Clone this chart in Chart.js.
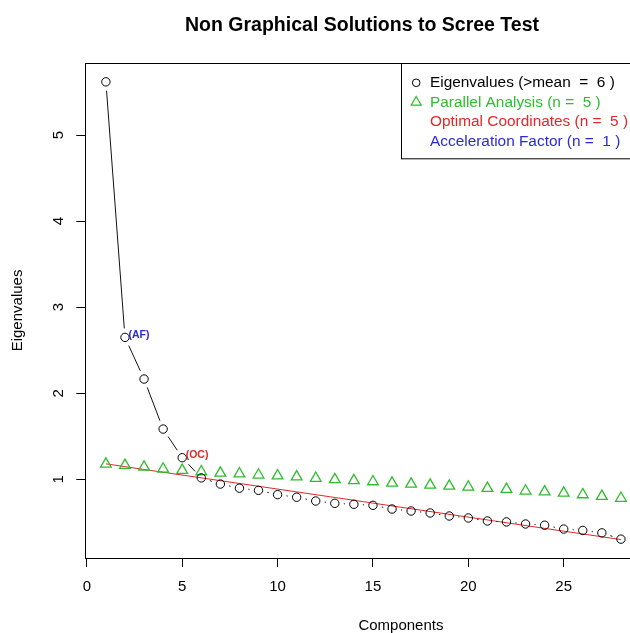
<!DOCTYPE html>
<html>
<head>
  <title>Non Graphical Solutions to Scree Test</title>
  <script src="https://cdn.jsdelivr.net/npm/chart.js"></script>
  <style>
    html, body { margin: 0; padding: 0; background: #fff; overflow: hidden; }
    #wrap { width: 724px; height: 633px; }
  </style>
</head>
<body>
<div id="wrap"><canvas id="scree" width="724" height="633"></canvas></div>
<script>
  // values
  const components = [1, 2, 3, 4, 5, 6, 7, 8, 9, 10, 11, 12, 13, 14, 15, 16, 17, 18, 19, 20, 21, 22, 23, 24, 25, 26, 27, 28];
  const eigenvalues = [5.618, 2.649, 2.165, 1.584, 1.251, 1.017, 0.945, 0.897, 0.872, 0.822, 0.792, 0.748, 0.721, 0.71, 0.698, 0.655, 0.632, 0.609, 0.574, 0.551, 0.516, 0.505, 0.481, 0.467, 0.422, 0.406, 0.378, 0.305];
  const parallel = [1.178, 1.163, 1.143, 1.12, 1.105, 1.089, 1.073, 1.065, 1.051, 1.042, 1.029, 1.013, 0.997, 0.985, 0.973, 0.957, 0.945, 0.934, 0.922, 0.911, 0.896, 0.884, 0.865, 0.855, 0.84, 0.822, 0.803, 0.781];
  const ocLineX = [1, 28];
  const ocLineY = [1.18, 0.30];
  const xTicks = [0, 5, 10, 15, 20, 25];
  const yTicks = [1, 2, 3, 4, 5];
  const legendLabels = ['Eigenvalues (>mean  =  6 )', 'Parallel Analysis (n =  5 )', 'Optimal Coordinates (n =  5 )', 'Acceleration Factor (n =  1 )'];
  const legendSymbols = ['circle', 'triangle', null, null];
  const afComponent = 2;
  const ocComponent = 5;

  const FONT = '"Liberation Sans", Arial, sans-serif';
  const GREEN = '#2ebd2e', RED = '#e02828', BLUE = '#2a2ad6';
  const legendColors = ['#000000', GREEN, RED, BLUE];

  // R style "b" lines: segments with gaps round each point
  const typeBLines = {
    id: 'typeBLines',
    afterDatasetsDraw(chart) {
      const pts = chart.getDatasetMeta(0).data;
      const ctx = chart.ctx;
      const gap = 9;
      ctx.save();
      ctx.strokeStyle = '#111';
      ctx.lineWidth = 1;
      ctx.beginPath();
      for (let i = 1; i < pts.length; i++) {
        const a = pts[i - 1], b = pts[i];
        const dx = b.x - a.x, dy = b.y - a.y;
        const len = Math.hypot(dx, dy);
        if (len <= 2 * gap) continue;
        const ux = dx / len, uy = dy / len;
        ctx.moveTo(a.x + ux * gap, a.y + uy * gap);
        ctx.lineTo(b.x - ux * gap, b.y - uy * gap);
      }
      ctx.stroke();
      ctx.restore();
    }
  };

  // box, (AF)/(OC) marks and the legend
  const decorations = {
    id: 'decorations',
    afterDraw(chart) {
      const ctx = chart.ctx;
      const area = chart.chartArea;
      const xs = chart.scales.x, ys = chart.scales.y;
      ctx.save();
      ctx.strokeStyle = '#000';
      ctx.lineWidth = 1;
      ctx.strokeRect(Math.round(area.left) + 0.5, Math.round(area.top) + 0.5,
        Math.round(area.right - area.left), Math.round(area.bottom - area.top));

      // point labels
      ctx.font = 'bold 10.5px ' + FONT;
      ctx.textAlign = 'left';
      ctx.textBaseline = 'middle';
      ctx.fillStyle = BLUE;
      ctx.fillText('(AF)', xs.getPixelForValue(afComponent) + 3.5, ys.getPixelForValue(eigenvalues[afComponent - 1]) - 2);
      ctx.fillStyle = RED;
      ctx.fillText('(OC)', xs.getPixelForValue(ocComponent) + 3.5, ys.getPixelForValue(eigenvalues[ocComponent - 1]) - 2.5);

      // legend, top right of the plot box
      const boxRight = xs.getPixelForValue(29.08);
      const left = Math.round(boxRight - 240.7) + 0.5;
      const top = Math.round(area.top) + 0.5;
      ctx.fillStyle = '#fff';
      ctx.fillRect(left, top, boxRight - left, 95.3);
      ctx.strokeRect(left, top, boxRight - left, 95.3);
      ctx.font = '15.4px ' + FONT;
      legendLabels.forEach((label, i) => {
        const cy = top + 19.3 + i * 19.5;
        const sx = left + 14.7;
        ctx.strokeStyle = legendColors[i];
        ctx.lineWidth = 1;
        if (legendSymbols[i] === 'circle') {
          ctx.beginPath();
          ctx.arc(sx, cy, 3.8, 0, Math.PI * 2);
          ctx.stroke();
        } else if (legendSymbols[i] === 'triangle') {
          const r = 5.8;
          ctx.lineWidth = 1.2;
          ctx.beginPath();
          ctx.moveTo(sx, cy - r);
          ctx.lineTo(sx + r * 0.866, cy + r / 2);
          ctx.lineTo(sx - r * 0.866, cy + r / 2);
          ctx.closePath();
          ctx.stroke();
        }
        ctx.fillStyle = legendColors[i];
        ctx.fillText(label, left + 28.5, cy);
      });
      ctx.restore();
    }
  };

  const ctx = document.getElementById('scree').getContext('2d');
  const screeChart = new Chart(ctx, {
    type: 'scatter',
    data: {
      datasets: [{
        label: 'Eigenvalues',
        data: components.map((c, i) => ({ x: c, y: eigenvalues[i] })),
        showLine: false,
        pointStyle: 'circle',
        pointRadius: 4.2,
        borderColor: '#000',
        backgroundColor: 'rgba(0,0,0,0)',
        borderWidth: 1
      }, {
        label: 'Parallel Analysis',
        data: components.map((c, i) => ({ x: c, y: parallel[i] })),
        showLine: false,
        pointStyle: 'triangle',
        pointRadius: 6.2,
        borderColor: GREEN,
        backgroundColor: 'rgba(0,0,0,0)',
        borderWidth: 1.3
      }, {
        label: 'Optimal Coordinates',
        data: ocLineX.map((c, i) => ({ x: c, y: ocLineY[i] })),
        showLine: true,
        pointRadius: 0,
        borderColor: RED,
        borderWidth: 1
      }]
    },
    options: {
      responsive: false,
      animation: false,
      events: [],
      layout: { padding: 0 },
      plugins: {
        legend: { display: false },
        tooltip: { enabled: false },
        title: {
          display: true,
          text: 'Non Graphical Solutions to Scree Test',
          color: '#000',
          font: { family: FONT, size: 19.5, weight: 'bold' },
          padding: { top: 14, bottom: 25.5 }
        }
      },
      scales: {
        x: {
          type: 'linear',
          min: -0.08,
          max: 33.01,
          afterBuildTicks: s => { s.ticks = xTicks.map(v => ({ value: v })); },
          afterFit: s => { s.height = 75; },
          ticks: { color: '#000', font: { family: FONT, size: 15 }, padding: 11, maxRotation: 0, autoSkip: false },
          grid: { drawOnChartArea: false, drawTicks: true, tickLength: 9, color: '#000' },
          border: { display: false },
          title: {
            display: true, text: 'Components', color: '#000',
            font: { family: FONT, size: 15, lineHeight: 1 },
            padding: { top: 0, bottom: 0 }
          }
        },
        y: {
          type: 'linear',
          min: 0.086,
          max: 5.838,
          afterBuildTicks: s => { s.ticks = yTicks.map(v => ({ value: v })); },
          afterFit: s => { s.width = 85.3; },
          ticks: { color: '#000', font: { family: FONT, size: 15 }, padding: 13.5, minRotation: 90, maxRotation: 90, crossAlign: 'center' },
          grid: { drawOnChartArea: false, drawTicks: true, tickLength: 9, color: '#000' },
          border: { display: false },
          title: {
            display: true, text: 'Eigenvalues', color: '#000',
            font: { family: FONT, size: 15 },
            padding: { top: 9, bottom: 0 }
          }
        }
      }
    },
    plugins: [typeBLines, decorations]
  });
</script>
</body>
</html>
